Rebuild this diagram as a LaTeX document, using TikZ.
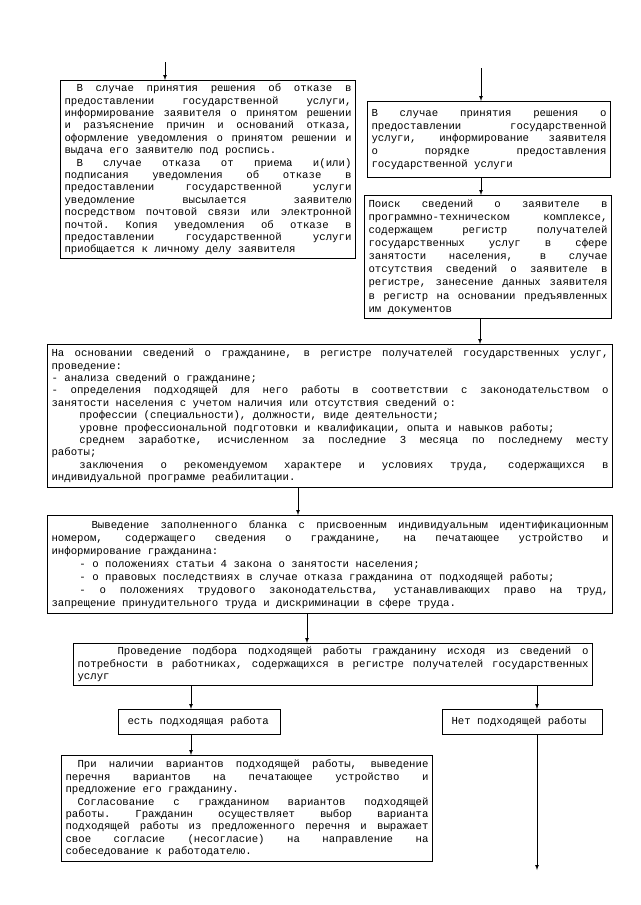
\documentclass[tikz,border=0pt]{standalone}
\usepackage{fontspec}
\newfontfamily\courfont{Liberation Mono}
\usetikzlibrary{arrows}
\usetikzlibrary{calc}
\usetikzlibrary{positioning}

\newcommand\boxfont{\courfont\fontsize{10.7pt}{12.4pt}\selectfont
  \spaceskip=0.6em plus 0.8em\xspaceskip=\spaceskip
  \parindent=0pt\tolerance=10000\hbadness=10000}

\tikzset{
  box/.style={draw, line width=1pt, anchor=north west, inner xsep=4pt,
    inner ysep=1pt, align=justify, font=\boxfont},
  arr/.style={-latex, line width=0.7pt}
}

\begin{document}
\begin{tikzpicture}[x=1pt,y=-1pt]
		\useasboundingbox[fill=white] (0,0) rectangle (640,905);
		% left column: refusal
		\node[box, text width=287pt, minimum height=178pt](A) at (60,80) {%
			\hspace*{12pt}В случае принятия решения об отказе в\linebreak
			предоставлении государственной услуги,\linebreak
			информирование заявителя о принятом решении\linebreak
			и разъяснение причин и оснований отказа,\linebreak
			оформление уведомления о принятом решении и\linebreak
			выдача его заявителю под роспись.\par
			\hspace*{12pt}В случае отказа от приема и(или)\linebreak
			подписания уведомления об отказе в\linebreak
			предоставлении государственной услуги\linebreak
			уведомление высылается заявителю\linebreak
			посредством почтовой связи или электронной\linebreak
			почтой. Копия уведомления об отказе в\linebreak
			предоставлении государственной услуги\linebreak
			приобщается к личному делу заявителя};
		% right column: approval
		\node[box, text width=235pt, minimum height=76pt, font={\boxfont\baselineskip=12.7pt}](B) at (367,101) {%
			В случае принятия решения о\linebreak
			предоставлении государственной\linebreak
			услуги, информирование заявителя\linebreak
			о порядке предоставления\linebreak
			государственной услуги\par\vspace*{6pt}};
		\node[box, text width=239pt, minimum height=123pt, font={\boxfont\baselineskip=13.1pt}](C) at (364,195) {%
			Поиск сведений о заявителе в\linebreak
			программно-техническом комплексе,\linebreak
			содержащем регистр получателей\linebreak
			государственных услуг в сфере\linebreak
			занятости населения, в случае\linebreak
			отсутствия сведений о заявителе в\linebreak
			регистре, занесение данных заявителя\linebreak
			в регистр на основании предъявленных\linebreak
			им документов};
		% wide boxes
		\node[box, text width=557pt, minimum height=143pt](D) at (47,344) {%
			На основании сведений о гражданине, в регистре получателей государственных услуг,\linebreak
			проведение:\par
			- анализа сведений о гражданине;\par
			- определения подходящей для него работы в соответствии с законодательством о\linebreak
			занятости населения с учетом наличия или отсутствия сведений о:\par
			\hspace*{28pt}профессии (специальности), должности, виде деятельности;\par
			\hspace*{28pt}уровне профессиональной подготовки и квалификации, опыта и навыков работы;\par
			\hspace*{28pt}среднем заработке, исчисленном за последние 3 месяца по последнему месту\linebreak
			работы;\par
			\hspace*{28pt}заключения о рекомендуемом характере и условиях труда, содержащихся в\linebreak
			индивидуальной программе реабилитации.};
		\node[box, text width=557pt, minimum height=98pt, font={\boxfont\baselineskip=13pt}](E) at (47,515) {%
			\hspace*{40pt}Выведение заполненного бланка с присвоенным индивидуальным идентификационным\linebreak
			номером, содержащего сведения о гражданине, на печатающее устройство и\linebreak
			информирование гражданина:\par
			\hspace*{28pt}- о положениях статьи 4 закона о занятости населения;\par
			\hspace*{28pt}- о правовых последствиях в случае отказа гражданина от подходящей работы;\par
			\hspace*{28pt}- о положениях трудового законодательства, устанавливающих право на труд,\linebreak
			запрещение принудительного труда и дискриминации в сфере труда.};
		\node[box, text width=511pt, minimum height=42pt](F) at (73,643) {%
			\hspace*{40pt}Проведение подбора подходящей работы гражданину исходя из сведений о\linebreak
			потребности в работниках, содержащихся в регистре получателей государственных\linebreak
			услуг};
		% branches
		\node[box, text width=154pt, minimum height=25pt](G) at (118,709) {\hspace*{5pt}есть подходящая работа};
		\node[box, text width=152pt, minimum height=25pt](H) at (442,709) {\hspace*{5pt}Нет подходящей работы};
		\node[box, text width=363pt, minimum height=106pt](I) at (61,755) {%
			\hspace*{12pt}При наличии вариантов подходящей работы, выведение\linebreak
			перечня вариантов на печатающее устройство и\linebreak
			предложение его гражданину.\par
			\hspace*{12pt}Согласование с гражданином вариантов подходящей\linebreak
			работы. Гражданин осуществляет выбор варианта\linebreak
			подходящей работы из предложенного перечня и выражает\linebreak
			свое согласие (несогласие) на направление на\linebreak
			собеседование к работодателю.};
		% connectors
		\coordinate (a0) at (165,62);
		\coordinate (b0) at (481,68);
		\coordinate (c0) at (480,0);
		\coordinate (d0) at (298,0);
		\coordinate (e0) at (307,0);
		\coordinate (f0) at (191,0);
		\coordinate (h0) at (537,870);
		\draw[arr] (a0) -- (a0 |- A.north);
		\draw[arr] (b0) -- (b0 |- B.north);
		\draw[arr] (b0 |- B.south) -- (b0 |- C.north);
		\draw[arr] (c0 |- C.south) -- (c0 |- D.north);
		\draw[arr] (d0 |- D.south) -- (d0 |- E.north);
		\draw[arr] (e0 |- E.south) -- (e0 |- F.north);
		\draw[arr] (f0 |- F.south) -- (f0 |- G.north);
		\draw[arr] (h0 |- F.south) -- (h0 |- H.north);
		\draw[arr] (f0 |- G.south) -- (f0 |- I.north);
		\draw[arr] (h0 |- H.south) -- (h0);
	\end{tikzpicture}
\end{document}
